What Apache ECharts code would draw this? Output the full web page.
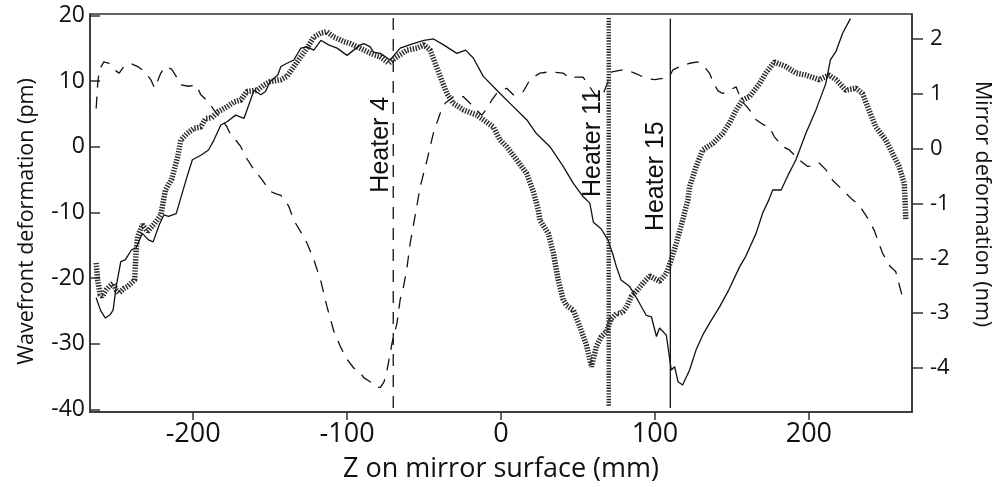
<!DOCTYPE html>
<html>
<head>
<meta charset="utf-8">
<script src="https://cdn.jsdelivr.net/npm/echarts@6/dist/echarts.min.js"></script>
<style>
html, body { margin: 0; padding: 0; background: #fff; }
#chart { width: 994px; height: 487px; }
</style>
</head>
<body>
<div id="chart"></div>
<script>
// heater 4 (dashed curve)
var heater4Z = [-263, -262, -261, -258, -254.5, -250, -248, -245, -240, -236, -232, -227.5, -225, -221, -218, -214, -211, -208, -203, -198,
    -195, -190, -186.5, -182, -178, -175.6, -172, -169, -166, -160.5, -155, -150, -146, -143, -138, -134.6, -130, -126, -121.6, -117,
    -113, -108.6, -104, -100, -95.7, -92, -89, -85, -82.7, -80, -78.4, -76, -74, -72, -70.8, -67.6, -65.5, -63.3, -61, -59,
    -55.7, -52.5, -48, -44, -39.5, -36.3, -30, -24.4, -18, -12.5, -9, -6, -2.8, 3.7, 8, 14.5, 18.8, 25.3, 31.8, 40.4,
    44.7, 49, 53.3, 57.7, 62, 66, 70, 72, 79, 81.5, 86.8, 94.4, 99.8, 105, 109.5, 111.7, 117, 122.5, 127.9, 132,
    135.4, 138.7, 141, 144, 148.4, 152.8, 156, 161.4, 165.7, 170, 174.3, 177.6, 183, 187.3, 193.8, 199, 203, 206.7, 211, 215.4,
    222, 228.4, 232.7, 239, 242.4, 247.8, 253, 256.4, 260.7, 262];
var heater4Def = [5.8, 9.6, 11.7, 12.9, 12.7, 11.5, 11.2, 12.2, 12.6, 12.2, 11.5, 10.2, 8.9, 11.2, 12.2, 11.8, 10.7, 9.4, 9.2, 9.4,
    7.9, 6.8, 5.6, 4.3, 3.0, 1.8, 0.9, 0, -1.5, -3.5, -5.1, -6.8, -7.2, -7.4, -9.0, -11.2, -13.0, -14.7, -17.2, -20.5,
    -24.4, -28.1, -30.6, -32.4, -33.7, -34.3, -35.2, -35.8, -36.0, -36.6, -36.7, -35.8, -34.0, -31.5, -29.9, -26.9, -23.3, -21.3, -18.3, -14.7,
    -10.4, -6.1, -2.0, 2.0, 5.1, 6.6, 7.8, 7.6, 6.1, 4.8, 5.8, 7.1, 8.1, 8.9, 7.9, 8.4, 10.2, 11.2, 11.4, 11.2,
    10.4, 10.6, 10.6, 9.1, 7.6, 7.8, 10.2, 11.4, 11.7, 11.7, 11.2, 10.4, 10.2, 10.4, 10.7, 11.7, 12.3, 12.7, 12.9, 12.2,
    11.2, 9.4, 8.5, 8.1, 8.6, 9.1, 7.1, 5.6, 4.1, 3.4, 3.0, 1.5, 0, -0.5, -2.0, -3.0, -2.9, -2.5, -3.5, -5.1,
    -6.6, -8.1, -8.9, -11.2, -12.7, -16.2, -18.3, -19.0, -22.8, -23.6];

// heater 11 (hatched curve)
var heater11Z = [-263, -262, -260.5, -259, -256.5, -254.5, -252, -250, -248, -245, -242.6, -238, -237, -236, -233, -229.6, -225, -221, -218, -214,
    -210, -208, -204, -199.4, -195, -191.8, -188, -184, -177.8, -173.5, -169, -165, -158.3, -154, -150, -143, -139, -134.6, -130, -126,
    -121.6, -117, -113, -108.6, -102, -97.9, -89, -82.7, -78.4, -73, -67.6, -61, -54.6, -50, -46, -42.8, -39.5, -35.2, -31, -24.4,
    -15.7, -11.5, -5, -0.6, 3.7, 10.2, 16.7, 21, 24.2, 25.3, 30.7, 34, 37.2, 40.4, 42.6, 47, 51.2, 55.5, 58.8, 60,
    62, 65.2, 68.4, 71.7, 75, 77, 79.3, 81.5, 84.7, 88, 92.2, 96.6, 103, 107.4, 110.6, 113.9, 118, 121.4, 122.5, 126.8,
    131, 137.6, 144, 148.4, 152.8, 157, 161.4, 168, 172, 177.6, 185, 191.6, 198, 206.7, 213, 217.6, 224, 230.5, 234.8, 239,
    243.5, 250, 254.3, 258.6, 262, 263];
var heater11Def = [-17.7, -20.3, -22.5, -22.8, -21.8, -21.3, -20.8, -21.8, -22.3, -21.6, -21.3, -20.3, -15.7, -13.7, -11.9, -12.9, -11.7, -10.4, -6.6, -5.0,
    -1.5, 1.0, 2.0, 2.8, 3.0, 4.3, 4.4, 5.3, 6.1, 6.8, 7.1, 8.4, 8.6, 9.4, 9.9, 10.2, 10.7, 12.2, 13.7, 15.0,
    16.7, 17.3, 17.5, 16.7, 16.0, 15.7, 14.7, 14.0, 13.7, 12.7, 13.7, 14.7, 15.0, 15.5, 14.7, 12.7, 10.7, 8.1, 6.6, 5.6,
    4.8, 4.1, 3.0, 1.0, 0, -2.0, -4.1, -6.8, -9.6, -11.2, -13.2, -16.2, -20.3, -23.3, -24.2, -24.9, -27.4, -30.2, -33.5, -33.5,
    -30.4, -28.9, -28.2, -26.2, -25.4, -25.4, -25.1, -24.4, -22.8, -22.0, -20.8, -19.7, -20.5, -19.3, -17.2, -14.7, -11.2, -8.1, -6.1, -3.0,
    -0.5, 0.5, 2.0, 3.6, 5.6, 7.1, 7.6, 9.6, 11.2, 12.9, 12.2, 11.2, 10.9, 10.2, 10.9, 10.2, 8.6, 8.9, 8.1, 5.6,
    3.0, 1.0, -1.0, -3.0, -5.6, -11.2];

// heater 15 (solid curve)
var heater15Z = [-263, -260, -257, -254, -252, -250, -247, -244, -240, -237, -233, -229, -226, -222, -219, -216, -211, -208, -204, -200.5,
    -195, -190, -186.5, -182, -178, -172.4, -167, -162.7, -160.5, -156, -153, -150, -145, -143, -139, -134.6, -130, -126, -121.6, -117,
    -112, -106.5, -100, -95.7, -91.4, -89, -85, -82.8, -78.4, -72, -65.5, -57, -50, -43.8, -37.3, -28.7, -23, -18, -11.5, -0.6,
    8, 16.7, 23, 31.8, 40.4, 47, 53.3, 57.7, 60, 65, 69.5, 72.8, 75, 78, 83.6, 88, 94.4, 97.7, 101, 103,
    107.4, 110.6, 112.8, 115, 118, 122.5, 126.8, 131, 135.4, 142, 148, 155, 159, 165.7, 170, 174, 176.5, 182, 187, 191.6,
    198, 204.6, 211, 214, 217.6, 222, 227];
var heater15Def = [-23, -25.0, -26.1, -25.6, -24.9, -21.3, -17.5, -17.2, -15.7, -15.4, -13.2, -14.2, -14.5, -11.9, -10.4, -10.6, -10.2, -7.8, -4.6, -2.0,
    -1.3, -0.5, 1.0, 3.3, 3.8, 4.8, 4.3, 7.1, 8.6, 7.9, 8.4, 9.9, 10.9, 12.2, 12.7, 13.2, 15.0, 15.2, 14.7, 16.2,
    15.5, 15.0, 13.9, 14.7, 15.5, 15.7, 15.2, 14.4, 14.2, 13.2, 15.0, 15.7, 16.2, 16.4, 15.5, 14.2, 14.7, 13.5, 10.7, 8.1,
    6.1, 4.1, 2.0, 0, -3.0, -5.6, -7.6, -8.6, -11.5, -12.5, -14.2, -16.5, -18.3, -20.3, -21.3, -23.0, -25.7, -25.9, -28.9, -27.6,
    -28.7, -34.0, -33.5, -35.8, -36.3, -34.0, -30.9, -28.7, -26.9, -24.4, -21.8, -18.3, -16.7, -13.2, -10.1, -8.1, -6.6, -6.6, -4.1, -2.0,
    2.0, 5.6, 9.6, 13.2, 14.5, 17.3, 19.5];

// heater positions (mm) and vertical extent of their marker lines (pm)
var heaterPos = [-70, 70, 110];
var heaterNames = ["Heater 4", "Heater 11", "Heater 15"];
var heaterTop = [19.6, 19.6, 19.5];
var heaterBottom = [-39.8, -39.6, -39.8];
var heaterLabelV = [0.3, 0.55, -4.5];

var zTicks = [-200, -100, 0, 100, 200];
var wavefrontTicks = [-40, -30, -20, -10, 0, 10, 20];
var mirrorTicks = [-4, -3, -2, -1, 0, 1, 2];

function pairs(zs, vs) {
    return zs.map(function (z, i) { return [z, vs[i]]; });
}

var INK = "#111";
var AXIS = "#333";
var dashed = { color: INK, width: 1.3, type: [12, 9] };
var hatched = { color: "#2a2a2a", width: 5.5, type: [1.4, 1.4] };
var solid = { color: INK, width: 1.3 };

var chart = echarts.init(document.getElementById("chart"));

var lineStyles = [dashed, hatched, solid];
var heaterSeries = heaterPos.map(function (p, i) {
    return {
        type: "line",
        data: [[p, heaterTop[i]], [p, heaterBottom[i]]],
        showSymbol: false,
        silent: true,
        lineStyle: i === 1 ? { color: "#2a2a2a", width: 4.5, type: [1.4, 1.4] } : lineStyles[i]
    };
});

chart.setOption({
    animation: false,
    backgroundColor: "#fff",
    grid: {
        left: 90, right: 82, top: 14, bottom: 75,
        show: true, borderColor: AXIS, borderWidth: 1.5,
        outerBoundsMode: "none"
    },
    xAxis: {
        type: "value",
        min: -267, max: 267,
        name: "Z on mirror surface (mm)",
        nameLocation: "middle",
        nameGap: 44,
        nameTextStyle: { fontFamily: "Open Sans", fontSize: 27, color: INK },
        axisLine: { onZero: false, lineStyle: { color: AXIS, width: 1.5 } },
        axisTick: { customValues: zTicks, length: 8, lineStyle: { color: AXIS, width: 1.5 } },
        axisLabel: { customValues: zTicks, margin: 9, fontFamily: "Open Sans", fontSize: 27, color: INK },
        splitLine: { show: false }
    },
    yAxis: [
        {
            type: "value",
            min: -40.4, max: 20.2,
            name: "Wavefront deformation (pm)",
            nameLocation: "middle",
            nameGap: 52,
            nameTextStyle: { fontFamily: "Open Sans", fontSize: 21.5, color: INK, padding: [0, 17, 0, 0] },
            axisLine: { onZero: false, lineStyle: { color: AXIS, width: 1.5 } },
            axisTick: { customValues: wavefrontTicks, inside: true, length: 10, lineStyle: { color: AXIS, width: 1.5 } },
            axisLabel: { customValues: wavefrontTicks, margin: 5, fontFamily: "Open Sans", fontSize: 23, color: INK },
            splitLine: { show: false }
        },
        {
            type: "value",
            position: "right",
            min: -4.8, max: 2.45,
            name: "Mirror deformation (nm)",
            nameLocation: "middle",
            nameRotate: -90,
            nameGap: 59,
            nameTextStyle: { fontFamily: "Open Sans", fontSize: 21.5, color: INK, padding: [0, 18, 0, 0] },
            axisLine: { show: true, onZero: false, lineStyle: { color: AXIS, width: 1.5 } },
            axisTick: { customValues: mirrorTicks, length: 11, lineStyle: { color: AXIS, width: 1.5 } },
            axisLabel: { customValues: mirrorTicks, margin: 18, fontFamily: "Open Sans", fontSize: 22, color: INK },
            splitLine: { show: false }
        }
    ],
    series: [
        { type: "line", data: pairs(heater4Z, heater4Def), showSymbol: false, lineStyle: dashed },
        { type: "line", data: pairs(heater11Z, heater11Def), showSymbol: false, lineStyle: hatched },
        { type: "line", data: pairs(heater15Z, heater15Def), showSymbol: false, lineStyle: solid }
    ].concat(heaterSeries)
});

// rotated heater labels, placed next to their marker lines
var labelDx = [-12, -16, -14];
chart.setOption({
    graphic: heaterNames.map(function (name, i) {
        var p = chart.convertToPixel({ gridIndex: 0 }, [heaterPos[i], heaterLabelV[i]]);
        return {
            type: "text",
            x: p[0] + labelDx[i],
            y: p[1],
            rotation: Math.PI / 2,
            style: {
                text: name,
                font: '25px "Liberation Sans"',
                fill: INK,
                align: "center",
                verticalAlign: "middle"
            }
        };
    })
});
</script>
</body>
</html>
